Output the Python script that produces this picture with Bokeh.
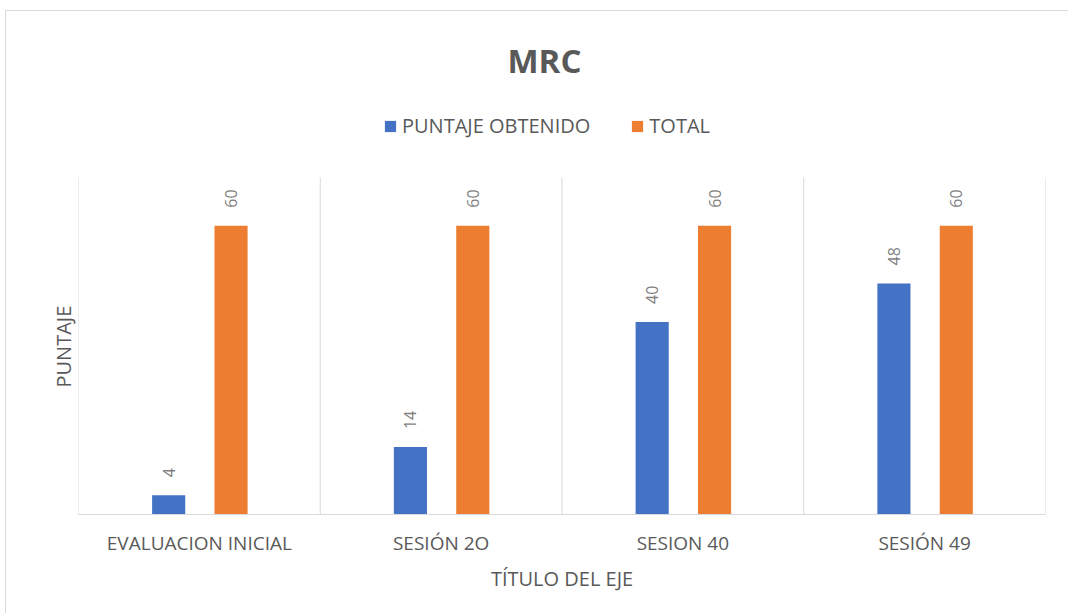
import math
from bokeh.plotting import figure
from bokeh.models import (ColumnDataSource, Range1d, FixedTicker, Legend, LegendItem,
                          LabelSet, Title)
from bokeh.core.properties import value
from bokeh.transform import dodge
from bokeh.embed import file_html
from bokeh.resources import INLINE

categories = ["EVALUACION INICIAL", "SESIÓN 2O", "SESION 40", "SESIÓN 49"]
puntaje_obtenido = [4, 14, 40, 48]
total = [60, 60, 60, 60]
series_names = ["PUNTAJE OBTENIDO", "TOTAL"]
y_axis_max = 70

BLUE = "#4472C4"
ORANGE = "#ED7D31"
TEXT = "#595959"
LABEL = "#7F7F7F"
GRID = "#D9D9D9"
FONT = "Open Sans"

n = len(categories)
src = ColumnDataSource(dict(
    x=[i + 0.5 for i in range(n)],
    p=puntaje_obtenido,
    t=total,
    pl=[str(v) for v in puntaje_obtenido],
    tl=[str(v) for v in total],
))

FRAME_H = 411
PLOT_H = 337  # height of the 0..70 area
p = figure(frame_width=967, frame_height=FRAME_H, output_backend="svg", toolbar_location=None,
           x_range=Range1d(0, n), y_range=Range1d(0, y_axis_max * FRAME_H / PLOT_H),
           min_border_left=78, min_border_right=23, min_border_top=103,
           min_border_bottom=99, title="MRC")
p.outline_line_color = None
p.border_fill_color = None
p.styles = {
    "background-color": "white",
    "background-image": "linear-gradient(#D9D9D9, #D9D9D9), linear-gradient(#D9D9D9, #D9D9D9)",
    "background-size": "100% 1px, 1px 100%",
    "background-position": "5px 10px, 5px 10px",
    "background-repeat": "no-repeat",
}

p.title.align = "left"
p.title.offset = 429
p.title.text_font = FONT
p.title.text_font_size = "33px"
p.title.text_font_style = "bold"
p.title.text_color = TEXT
p.title.standoff = 41

# vertical separators between categories (grid)
p.segment(x0=list(range(n + 1)), x1=list(range(n + 1)), y0=[0] * (n + 1),
          y1=[y_axis_max] * (n + 1), line_color=GRID, line_width=1)

BO = -0.127
OO = 0.131
BW = 0.137
rb = p.vbar(x=dodge("x", BO), top="p", width=BW, source=src, color=BLUE, line_color=None)
ro = p.vbar(x=dodge("x", OO), top="t", width=BW, source=src, color=ORANGE, line_color=None)

for col, lab, off in (("p", "pl", BO), ("t", "tl", OO)):
    ls = LabelSet(x=dodge("x", off), y=col, text=lab, source=src, angle=math.pi / 2,
                  text_align="left", text_baseline="middle", y_offset=18,
                  text_font=value(FONT), text_font_size=value("16px"), text_color=LABEL)
    p.add_layout(ls)

# axes
p.xaxis.ticker = FixedTicker(ticks=[i + 0.5 for i in range(n)])
p.xaxis.major_label_overrides = {i + 0.5: c for i, c in enumerate(categories)}
p.xaxis.axis_line_color = GRID
p.xaxis.major_tick_line_color = None
p.xaxis.minor_tick_line_color = None
p.xaxis.major_label_text_font = FONT
p.xaxis.major_label_text_font_size = "19px"
p.xaxis.major_label_text_color = TEXT
p.xaxis.major_label_standoff = 9
p.xaxis.axis_label = "TÍTULO DEL EJE"
p.xaxis.axis_label_text_font = FONT
p.xaxis.axis_label_text_font_size = "20px"
p.xaxis.axis_label_text_font_style = "normal"
p.xaxis.axis_label_text_color = TEXT
p.xaxis.axis_label_standoff = 6

p.yaxis.visible = False
p.add_layout(Title(text="PUNTAJE", align="left", offset=127, standoff=4,
                   text_font=FONT, text_font_size="20px", text_font_style="normal",
                   text_color=TEXT), "left")

p.ygrid.grid_line_color = None
p.xgrid.grid_line_color = None

legend = Legend(items=[LegendItem(label=series_names[0], renderers=[rb]),
                       LegendItem(label=series_names[1], renderers=[ro])],
                orientation="horizontal", location=(305, 375),
                label_text_font=FONT, label_text_font_size="20px", label_text_color=TEXT,
                glyph_width=14, glyph_height=14, spacing=40, label_standoff=5,
                border_line_color=None, background_fill_alpha=0, margin=0, padding=0)
p.add_layout(legend)

open("out.html", "w").write(file_html(p, INLINE))
